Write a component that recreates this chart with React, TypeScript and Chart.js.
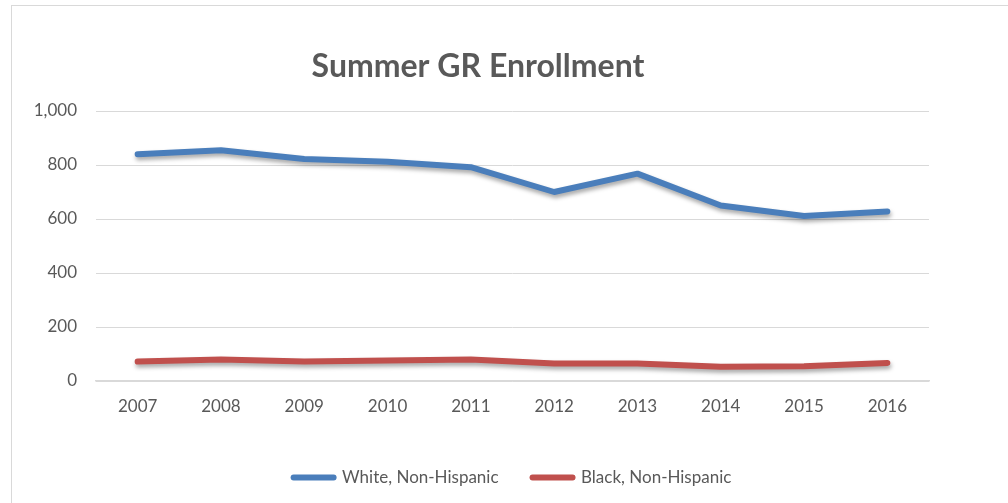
import React, { useEffect, useRef } from 'react';
import { Chart, registerables } from 'chart.js';

Chart.register(...registerables);

const years = ['2007', '2008', '2009', '2010', '2011', '2012', '2013', '2014', '2015', '2016'];
const whiteNonHispanic = [840, 855, 822, 812, 792, 700, 768, 650, 611, 628];
const blackNonHispanic = [72, 80, 72, 76, 80, 65, 65, 53, 55, 67];
const seriesNames = ['White, Non-Hispanic', 'Black, Non-Hispanic'];
const yMin = 0;
const yMax = 1000;
const yStep = 200;
const chartTitle = 'Summer GR Enrollment';

const TEXT = '#595959';
const GRID = '#d9d9d9';
const FONT = 'Lato, "Open Sans", sans-serif';

const shadowPlugin = {
  id: 'lineShadow',
  beforeDatasetsDraw(chart: any) {
    const ctx = chart.ctx;
    ctx.save();
    ctx.shadowColor = 'rgba(0,0,0,0.35)';
    ctx.shadowBlur = 4;
    ctx.shadowOffsetX = 1;
    ctx.shadowOffsetY = 3;
  },
  afterDatasetsDraw(chart: any) {
    chart.ctx.restore();
  },
};

export default function App() {
  const ref = useRef<HTMLCanvasElement | null>(null);

  useEffect(() => {
    if (!ref.current) return;
    const chart = new Chart(ref.current, {
      type: 'line',
      data: {
        labels: years,
        datasets: [
          {
            label: seriesNames[0],
            data: whiteNonHispanic,
            borderColor: '#4a7ebb',
            backgroundColor: '#4a7ebb',
            borderWidth: 6,
            borderCapStyle: 'round',
            borderJoinStyle: 'round',
            pointRadius: 0,
            pointHoverRadius: 0,
            tension: 0,
            clip: false,
          },
          {
            label: seriesNames[1],
            data: blackNonHispanic,
            borderColor: '#c0504d',
            backgroundColor: '#c0504d',
            borderWidth: 6,
            borderCapStyle: 'round',
            borderJoinStyle: 'round',
            pointRadius: 0,
            pointHoverRadius: 0,
            tension: 0,
            clip: false,
          },
        ],
      },
      options: {
        responsive: false,
        animation: false,
        layout: { padding: { left: 27, right: 79, top: 0, bottom: 7 } },
        plugins: {
          title: {
            display: true,
            text: chartTitle,
            color: TEXT,
            font: { family: FONT, size: 32, weight: 'bold' },
            padding: { top: 47, bottom: 25.6 },
          },
          legend: {
            display: true,
            position: 'bottom',
            fullSize: false,
            labels: {
              color: TEXT,
              font: { family: FONT, size: 17 },
              usePointStyle: true,
              pointStyle: 'line',
              pointStyleWidth: 40,
              padding: 34,
              generateLabels: (c: any) =>
                Chart.defaults.plugins.legend.labels.generateLabels(c).map((it: any) => ({
                  ...it,
                  lineCap: 'round',
                  lineWidth: 6,
                  strokeStyle: c.data.datasets[it.datasetIndex].borderColor,
                  fillStyle: c.data.datasets[it.datasetIndex].borderColor,
                })),
            },
          },
          tooltip: { enabled: false },
        },
        scales: {
          x: {
            offset: true,
            grid: { display: false, drawTicks: false },
            border: { display: true, color: GRID, width: 1.5 },
            ticks: { color: TEXT, font: { family: FONT, size: 17 }, padding: 15, maxRotation: 0 },
            afterFit: (s: any) => {
              s.height = 54;
            },
          },
          y: {
            min: yMin,
            max: yMax,
            ticks: { stepSize: yStep, color: TEXT, font: { family: FONT, size: 17 }, padding: 19 },
            grid: { color: GRID, lineWidth: 1, drawTicks: false },
            border: { display: false },
            afterFit: (s: any) => {
              s.width = 69;
            },
          },
        },
      },
      plugins: [shadowPlugin],
    });
    return () => chart.destroy();
  }, []);

  return (
    <div style={{ position: 'absolute', left: 0, top: 0, width: 1008, height: 503, overflow: 'hidden', background: '#fff' }}>
      <div
        style={{
          position: 'absolute',
          left: 11,
          top: 5,
          width: 1100,
          height: 600,
          borderLeft: '1px solid #d9d9d9',
          borderTop: '1px solid #d9d9d9',
        }}
      />
      <canvas ref={ref} width={1008} height={503} style={{ position: 'absolute', left: 0, top: 0, width: 1008, height: 503 }} />
    </div>
  );
}
